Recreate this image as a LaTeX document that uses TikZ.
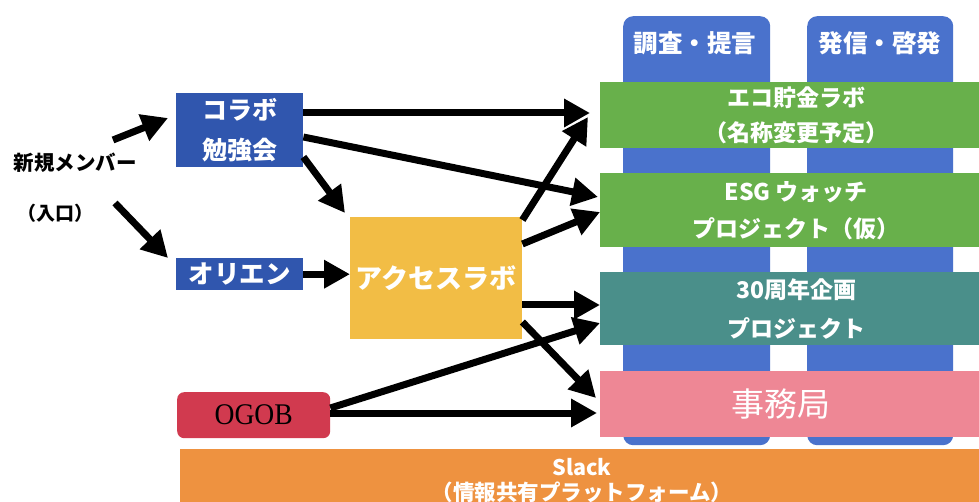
\documentclass[tikz,border=0pt]{standalone}
\usepackage{fontspec}
\setmainfont{Liberation Serif}
\newfontfamily\jp{Noto Sans CJK JP}
\newfontfamily\ogobfont[FakeStretch=0.92]{Liberation Serif}
\usetikzlibrary{arrows.meta,calc}
\definecolor{colblue}{HTML}{4A72CC}
\definecolor{boxblue}{HTML}{3056AE}
\definecolor{bargreen}{HTML}{68B04B}
\definecolor{barteal}{HTML}{4A8F8A}
\definecolor{barpink}{HTML}{EE8795}
\definecolor{barorange}{HTML}{EE9240}
\definecolor{boxyellow}{HTML}{F2BD45}
\definecolor{boxred}{HTML}{D13A4F}
\tikzset{
  colbox/.style={fill=colblue, rounded corners=10pt, anchor=north west, inner sep=0pt},
  bar/.style={anchor=north west, inner sep=0pt, text=white, align=center},
  bluebox/.style={fill=boxblue, anchor=north west, inner sep=0pt, text=white, align=center},
  hdr/.style={text=white, font=\jp\bfseries\fontsize{24.5}{28}\selectfont},
  flow/.style={line width=7pt, -{Triangle[length=26pt,width=27pt]}},
}
\begin{document}
\begin{tikzpicture}[x=1pt,y=-1pt]
\useasboundingbox (0,0) rectangle (979,502);
\fill[white] (0,0) rectangle (979,502);
% columns
\node[colbox, minimum width=147pt, minimum height=429pt] (col1) at (623,16) {};
\node[colbox, minimum width=146pt, minimum height=429pt] (col2) at (807,16) {};
\node[hdr] (hd1) at (695,43) {調査・提言};
\node[hdr] (hd2) at (880,43) {発信・啓発};
% bars
\node[bar, fill=bargreen, minimum width=392pt, minimum height=66pt,
  font=\jp\bfseries\fontsize{23}{35}\selectfont] (g1) at (600,82) {エコ貯金ラボ\\（名称変更予定）};
\node[bar, fill=bargreen, minimum width=392pt, minimum height=74pt,
  font=\jp\bfseries\fontsize{23}{37}\selectfont] (g2) at (600,173) {ESG ウォッチ\\プロジェクト（仮）};
\node[bar, fill=barteal, minimum width=392pt, minimum height=73pt,
  font=\jp\bfseries\fontsize{23}{39}\selectfont] (teal) at (600,272) {30周年企画\\プロジェクト};
\node[bar, fill=barpink, minimum width=362pt, minimum height=66pt,
  font=\jp\fontsize{33}{36}\selectfont] (pink) at (600,371) {事務局};
\fill[barpink] (pink.north east) rectangle (992,437);
\node[bar, fill=barorange, minimum width=820pt, minimum height=70pt] (slack) at (180,449) {};
\node[text=white, align=center, font=\jp\bfseries\fontsize{21.5}{25}\selectfont] (slacktxt) at (582,481) {Slack\\（情報共有プラットフォーム）};
% left boxes
\node[bluebox, minimum width=127pt, minimum height=74pt,
  font=\jp\bfseries\fontsize{25}{40}\selectfont] (korabo) at (176,93) {コラボ\\勉強会};
\node[bluebox, minimum width=127pt, minimum height=32pt,
  font=\jp\bfseries\fontsize{25.5}{28}\selectfont] (orien) at (176,258) {オリエン};
\node[fill=boxyellow, anchor=north west, inner sep=0pt, minimum width=172pt, minimum height=122pt,
  text=white, font=\jp\bfseries\fontsize{27}{30}\selectfont] (access) at (350,217) {\raisebox{3pt}{アクセスラボ}};
\node[fill=boxred, rounded corners=7pt, anchor=north west, inner sep=0pt, minimum width=153pt, minimum height=46pt,
  font=\ogobfont\fontsize{30}{32}\selectfont] (ogob) at (177,392) {OGOB};
\node[font=\jp\bfseries\fontsize{20.5}{24}\selectfont] (shinki) at (75,163) {新規メンバー};
\node[font=\jp\bfseries\fontsize{19}{24}\selectfont] (iriguchi) at (55,213) {（入口）};
% arrows
\coordinate (s1) at (113,140);
\coordinate (s2) at (115,203);
\draw[flow] (s1) -- ($(korabo.north west)+(-8,25)$);
\draw[flow] (s2) -- ($(orien.north west)+(-8,0)$);
\draw[flow] ($(korabo.north east)+(0,20)$) -- ($(g1.north west)+(-10,31)$);
\draw[flow] ($(korabo.north east)+(0,44)$) -- ($(g2.north west)+(-2,24)$);
\draw[flow] ($(korabo.north east)+(0,64)$) -- ($(access.north west)+(-5,-4)$);
\draw[flow] (orien.east) -- (orien.east -| access.west);
\draw[flow] ($(access.north east)+(0,3)$) -- ($(g1.north west)+(-12,35)$);
\draw[flow] ($(access.north east)+(0,27)$) -- ($(g2.north west)+(0,39)$);
\draw[flow] ($(access.north east)+(0,88)$) -- ($(teal.north west)+(0,33)$);
\draw[flow] ($(access.north east)+(0,105)$) -- ($(pink.north west)+(-4,27)$);
\draw[flow] ($(ogob.north east)+(0,16)$) -- ($(teal.north west)+(0,51)$);
\draw[flow] ($(ogob.north east)+(0,21)$) -- ($(pink.north west)+(-3,42)$);
\end{tikzpicture}
\end{document}
